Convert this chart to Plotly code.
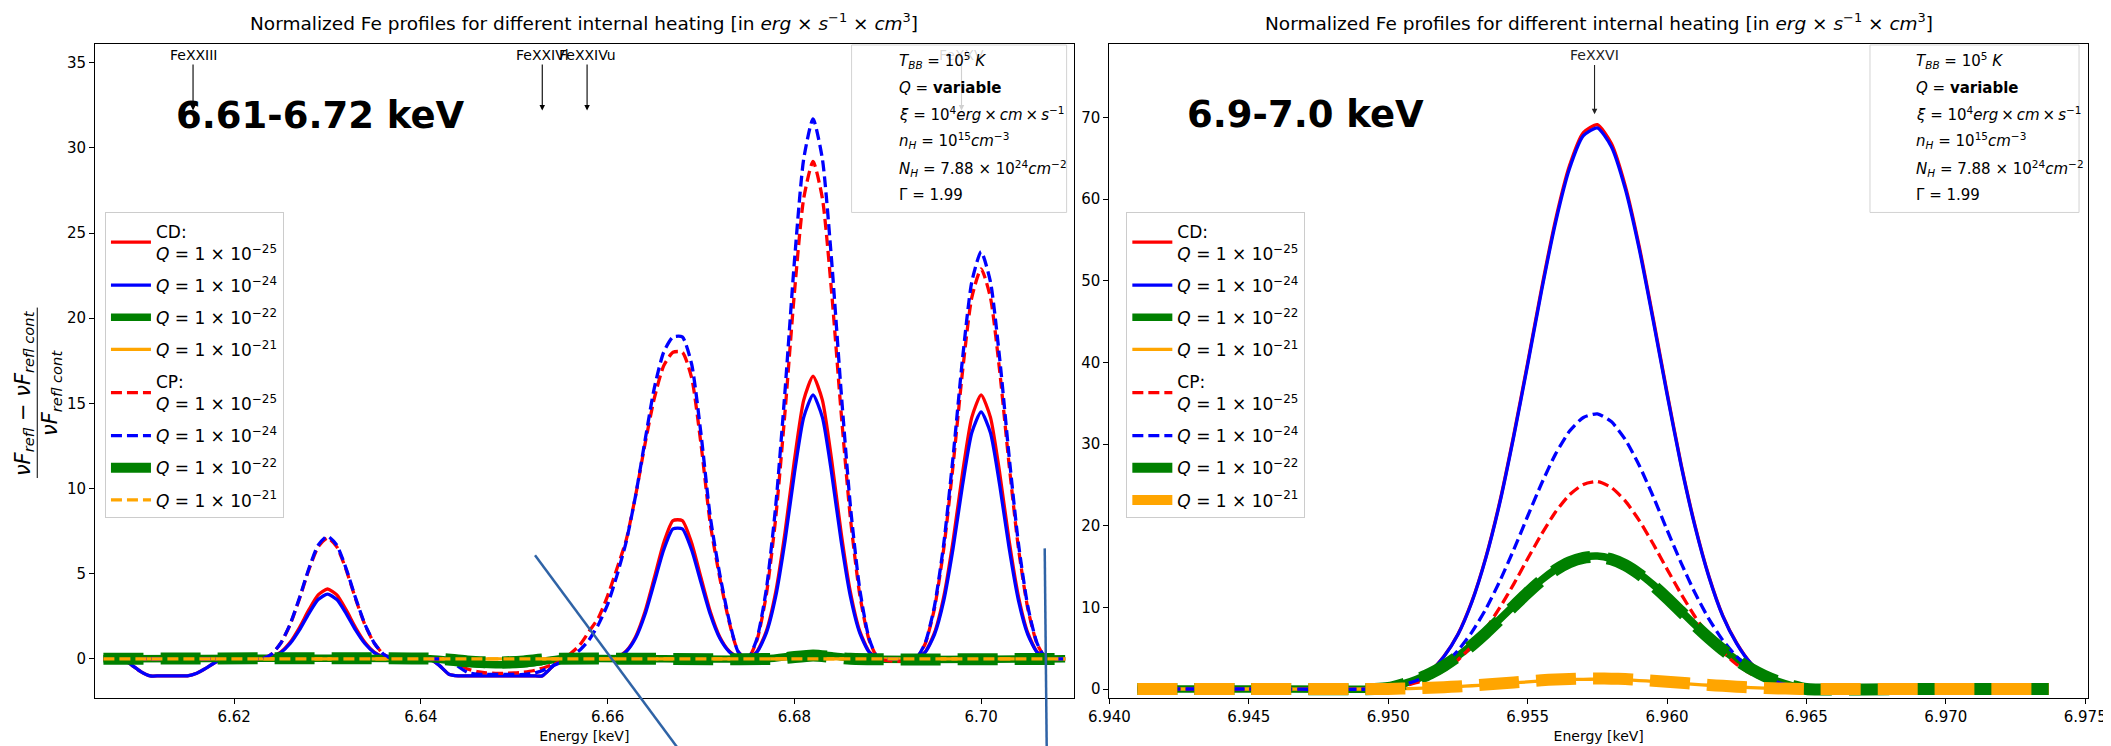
import plotly.graph_objects as go

# ---------------- data: left panel (6.61-6.72 keV) ----------------
E_L = [6.606, 6.607, 6.608, 6.609, 6.610, 6.611, 6.612, 6.613, 6.614, 6.615,
       6.616, 6.617, 6.618, 6.619, 6.620, 6.621, 6.622, 6.623, 6.624, 6.625,
       6.626, 6.627, 6.628, 6.629, 6.630, 6.631, 6.632, 6.633, 6.634, 6.635,
       6.636, 6.637, 6.638, 6.639, 6.640, 6.641, 6.642, 6.643, 6.644, 6.645,
       6.646, 6.647, 6.648, 6.649, 6.650, 6.651, 6.652, 6.653, 6.654, 6.655,
       6.656, 6.657, 6.658, 6.659, 6.660, 6.661, 6.662, 6.663, 6.664, 6.665,
       6.666, 6.667, 6.668, 6.669, 6.670, 6.671, 6.672, 6.673, 6.674, 6.675,
       6.676, 6.677, 6.678, 6.679, 6.680, 6.681, 6.682, 6.683, 6.684, 6.685,
       6.686, 6.687, 6.688, 6.689, 6.690, 6.691, 6.692, 6.693, 6.694, 6.695,
       6.696, 6.697, 6.698, 6.699, 6.700, 6.701, 6.702, 6.703, 6.704, 6.705,
       6.706, 6.707, 6.708, 6.709]

CD_Q25_L = [0, 0, 0, -0.35, -0.75, -1.0, -1.0, -1.0, -1.0, -1.0,
            -0.85, -0.55, -0.2, 0, 0, 0, 0, 0, 0.11, 0.40,
            0.97, 1.84, 2.87, 3.75, 4.10, 3.75, 2.87, 1.84, 0.97, 0.40,
            0.11, 0, 0, 0, 0, 0, -0.4, -0.9, -1.0, -1.0,
            -1.0, -1.0, -1.0, -1.0, -1.0, -1.0, -1.0, -1.0, -0.5, 0,
            0, 0, 0, 0, 0, 0.07, 0.46, 1.30, 2.76, 4.76,
            6.80, 8.12, 8.12, 6.80, 4.76, 2.76, 1.30, 0.46, 0.07, 0,
            0.43, 1.63, 3.92, 7.44, 11.64, 15.19, 16.60, 15.19, 11.64, 7.44,
            3.92, 1.63, 0.43, 0, 0, 0, 0, 0, 0.40, 1.52,
            3.66, 6.94, 10.87, 14.18, 15.50, 14.18, 10.87, 6.94, 3.66, 1.52,
            0.40, 0, 0, 0]

CD_Q24_L = [0, 0, 0, -0.35, -0.75, -1.0, -1.0, -1.0, -1.0, -1.0,
            -0.85, -0.55, -0.2, 0, 0, 0, 0, 0, 0.10, 0.37,
            0.90, 1.70, 2.66, 3.48, 3.80, 3.48, 2.66, 1.70, 0.90, 0.37,
            0.10, 0, 0, 0, 0, 0, -0.4, -0.9, -1.0, -1.0,
            -1.0, -1.0, -1.0, -1.0, -1.0, -1.0, -1.0, -1.0, -0.5, 0,
            0, 0, 0, 0, 0, 0.06, 0.43, 1.22, 2.60, 4.48,
            6.39, 7.63, 7.63, 6.39, 4.48, 2.60, 1.22, 0.43, 0.06, 0,
            0.40, 1.52, 3.66, 6.94, 10.87, 14.18, 15.50, 14.18, 10.87, 6.94,
            3.66, 1.52, 0.40, 0, 0, 0, 0, 0, 0.38, 1.42,
            3.42, 6.50, 10.16, 13.27, 14.50, 13.27, 10.16, 6.50, 3.42, 1.42,
            0.38, 0, 0, 0]

CP_Q25_L = [0, 0, 0, 0, 0, 0, 0, 0, 0, 0,
            0, 0, 0, 0, 0, 0, 0, 0, 0.27, 0.92,
            2.01, 3.53, 5.22, 6.57, 7.10, 6.57, 5.22, 3.53, 2.01, 0.92,
            0.27, 0, 0, 0, 0, 0, 0, 0, -0.3, -0.6,
            -0.75, -0.82, -0.85, -0.85, -0.83, -0.78, -0.70, -0.55, -0.35, -0.15,
            0.3, 0.8, 1.6, 2.4, 3.7, 5.3, 7.0, 9.6, 12.6, 15.3,
            17.2, 18.0, 18.0, 16.5, 12.6, 7.9, 4.8, 2.2, 0.4, 0,
            1.11, 3.77, 8.26, 14.51, 21.46, 27.04, 29.20, 27.04, 21.46, 14.51,
            8.26, 3.77, 1.11, 0, -0.1, -0.15, -0.1, 0, 0.87, 2.95,
            6.48, 11.38, 16.83, 21.21, 22.90, 21.21, 16.83, 11.38, 6.48, 2.95,
            0.87, 0, 0, 0]

CP_Q24_L = [0, 0, 0, 0, 0, 0, 0, 0, 0, 0,
            0, 0, 0, 0, 0, 0, 0, 0, 0.27, 0.93,
            2.04, 3.58, 5.29, 6.67, 7.20, 6.67, 5.29, 3.58, 2.04, 0.93,
            0.27, 0, 0, 0, 0, 0, 0, 0, -0.45, -0.8,
            -0.9, -0.92, -0.92, -0.92, -0.92, -0.92, -0.85, -0.7, -0.45, -0.2,
            0.1, 0.5, 1.1, 2.0, 3.2, 4.9, 6.9, 9.6, 12.8, 15.9,
            18.0, 18.9, 18.9, 17.3, 13.2, 8.3, 5.0, 2.3, 0.4, 0,
            1.20, 4.09, 8.97, 15.75, 23.30, 29.35, 31.70, 29.35, 23.30, 15.75,
            8.97, 4.09, 1.20, 0, 0, 0, 0, 0, 0.91, 3.08,
            6.76, 11.88, 17.57, 22.13, 23.90, 22.13, 17.57, 11.88, 6.76, 3.08,
            0.91, 0, 0, 0]

E_CD_Q22_L = [6.606, 6.641, 6.643, 6.645, 6.648, 6.651, 6.653, 6.655, 6.677, 6.680, 6.682, 6.684, 6.687, 6.709]
CD_Q22_L = [0, 0, -0.1, -0.25, -0.35, -0.3, -0.15, 0, 0, 0.18, 0.25, 0.18, 0, 0]
E_CP_Q22_L = [6.606, 6.642, 6.645, 6.648, 6.651, 6.654, 6.678, 6.682, 6.686, 6.709]
CP_Q22_L = [0, 0, -0.15, -0.22, -0.15, 0, 0, 0.2, 0, 0]
E_Q21_L = [6.606, 6.709]
CD_Q21_L = [0, 0]
CP_Q21_L = [0, 0]

# ---------------- data: right panel (6.9-7.0 keV) ----------------
E_R = [6.941, 6.945, 6.9495, 6.9500, 6.9505, 6.9510, 6.9515, 6.9520, 6.9525, 6.9530,
       6.9535, 6.9540, 6.9545, 6.9550, 6.9555, 6.9560, 6.9565, 6.9570, 6.9575, 6.9580,
       6.9585, 6.9590, 6.9595, 6.9600, 6.9605, 6.9610, 6.9615, 6.9620, 6.9625, 6.9630,
       6.9635, 6.9640, 6.9645, 6.9650, 6.969, 6.9737]

CD_Q25_R = [0, 0, 0, 0, 0.35, 1.04, 2.15, 4.01, 6.71, 10.73,
            16.12, 22.91, 31.07, 39.93, 49.06, 57.44, 64.08, 68.16, 69.13, 66.85,
            61.66, 54.25, 45.46, 36.33, 27.61, 20.07, 13.84, 8.99, 5.61, 3.18,
            1.66, 0.69, 0.21, 0, 0, 0]
CD_Q24_R = [0, 0, 0, 0, 0.34, 1.03, 2.13, 3.99, 6.67, 10.66,
            16.03, 22.77, 30.89, 39.70, 48.78, 57.10, 63.71, 67.77, 68.73, 66.46,
            61.30, 53.94, 45.20, 36.12, 27.45, 19.95, 13.76, 8.94, 5.57, 3.16,
            1.65, 0.69, 0.21, 0, 0, 0]
CD_Q22_R = [0, 0, 0, 0.13, 0.59, 1.17, 1.94, 2.90, 4.06, 5.41,
            6.91, 8.54, 10.20, 11.85, 13.37, 14.64, 15.60, 16.15, 16.30, 15.97,
            15.26, 14.15, 12.78, 11.21, 9.54, 7.87, 6.29, 4.84, 3.57, 2.49,
            1.61, 0.91, 0.39, 0, 0, 0]
CD_Q21_R = [0, 0, 0, 0.01, 0.04, 0.08, 0.14, 0.21, 0.30, 0.40,
            0.51, 0.63, 0.75, 0.87, 0.98, 1.08, 1.15, 1.19, 1.20, 1.17,
            1.12, 1.04, 0.94, 0.83, 0.70, 0.58, 0.46, 0.36, 0.26, 0.18,
            0.12, 0.06, 0.03, 0, 0, 0]
CP_Q25_R = [0, 0, 0, 0.13, 0.36, 0.77, 1.38, 2.28, 3.56, 5.25,
            7.37, 9.96, 12.85, 15.95, 18.97, 21.68, 23.78, 25.06, 25.40, 24.68,
            23.04, 20.66, 17.79, 14.69, 11.67, 8.88, 6.48, 4.51, 3.00, 1.87,
            1.10, 0.59, 0.26, 0, 0, 0]
CP_Q24_R = [0, 0, 0, 0.17, 0.48, 1.02, 1.83, 3.02, 4.72, 6.96,
            9.78, 13.21, 17.05, 21.16, 25.17, 28.77, 31.56, 33.26, 33.70, 32.75,
            30.57, 27.41, 23.61, 19.50, 15.49, 11.79, 8.59, 5.98, 3.97, 2.48,
            1.46, 0.78, 0.34, 0, 0, 0]
CP_Q22_R = [0, 0, 0, 0.12, 0.55, 1.12, 1.88, 2.84, 4.00, 5.35,
            6.85, 8.48, 10.14, 11.79, 13.30, 14.57, 15.52, 16.06, 16.20, 15.88,
            15.17, 14.07, 12.70, 11.14, 9.48, 7.82, 6.25, 4.81, 3.55, 2.48,
            1.60, 0.90, 0.38, 0, 0, 0]
CP_Q21_R = [0, 0, 0, 0.01, 0.05, 0.09, 0.15, 0.23, 0.32, 0.43,
            0.55, 0.68, 0.81, 0.95, 1.07, 1.17, 1.24, 1.29, 1.30, 1.27,
            1.22, 1.13, 1.02, 0.89, 0.76, 0.63, 0.50, 0.39, 0.28, 0.20,
            0.13, 0.07, 0.03, 0, 0, 0]

Q_LABELS = ["−25", "−24", "−22", "−21"]
XTICKS_L = [6.62, 6.64, 6.66, 6.68, 6.70]
XTICKS_R = [6.940, 6.945, 6.950, 6.955, 6.960, 6.965, 6.970, 6.975]
YTICKS_L = [0, 5, 10, 15, 20, 25, 30, 35]
YTICKS_R = [0, 10, 20, 30, 40, 50, 60, 70]

FONT = "DejaVu Sans"
THIN_DASH = "11px,5px"
THICK_DASH = "40px,17px"
W_THIN = 3.3
W_MID = 7.5
W_THICK = 12

# figure geometry (pixels)
ML, MR, MT, MB = 87, 22, 36, 50
PW = 2111 - ML - MR
PH = 746 - MT - MB


def px(xp):
    return (xp - ML) / PW


def py(yp):
    return (746 - MB - yp) / PH


def qlabel(exp, head=None):
    s = "<i>Q</i> = 1 × 10<sup>%s</sup>" % exp
    return (head + "<br>" + s) if head else s


fig = go.Figure()


def add(x, y, name, color, width, dash, xa, ya, leg, grp):
    fig.add_trace(go.Scatter(
        x=x, y=y, mode="lines", name=name,
        line=dict(color=color, width=width, dash=dash, shape="spline", smoothing=0.6),
        xaxis=xa, yaxis=ya, legend=leg, legendgroup=grp, hoverinfo="skip"))


# left panel
add(E_L, CD_Q25_L, qlabel(Q_LABELS[0], "CD:"), "#ff0000", W_THIN, "solid", "x", "y", "legend", "l1")
add(E_L, CD_Q24_L, qlabel(Q_LABELS[1]), "#0000ff", W_THIN, "solid", "x", "y", "legend", "l2")
add(E_CD_Q22_L, CD_Q22_L, qlabel(Q_LABELS[2]), "#008000", W_MID, "solid", "x", "y", "legend", "l3")
add(E_Q21_L, CD_Q21_L, qlabel(Q_LABELS[3]), "#ffa500", W_THIN, "solid", "x", "y", "legend", "l4")
add(E_L, CP_Q25_L, qlabel(Q_LABELS[0], "CP:"), "#ff0000", W_THIN, THIN_DASH, "x", "y", "legend", "l5")
add(E_L, CP_Q24_L, qlabel(Q_LABELS[1]), "#0000ff", W_THIN, THIN_DASH, "x", "y", "legend", "l6")
add(E_CP_Q22_L, CP_Q22_L, qlabel(Q_LABELS[2]), "#008000", W_THICK, THICK_DASH, "x", "y", "legend", "l7")
add(E_Q21_L, CP_Q21_L, qlabel(Q_LABELS[3]), "#ffa500", W_THIN, THIN_DASH, "x", "y", "legend", "l8")

# right panel
add(E_R, CD_Q25_R, qlabel(Q_LABELS[0], "CD:"), "#ff0000", W_THIN, "solid", "x2", "y2", "legend2", "r1")
add(E_R, CD_Q24_R, qlabel(Q_LABELS[1]), "#0000ff", W_THIN, "solid", "x2", "y2", "legend2", "r2")
add(E_R, CD_Q22_R, qlabel(Q_LABELS[2]), "#008000", W_MID, "solid", "x2", "y2", "legend2", "r3")
add(E_R, CD_Q21_R, qlabel(Q_LABELS[3]), "#ffa500", W_THIN, "solid", "x2", "y2", "legend2", "r4")
add(E_R, CP_Q25_R, qlabel(Q_LABELS[0], "CP:"), "#ff0000", W_THIN, THIN_DASH, "x2", "y2", "legend2", "r5")
add(E_R, CP_Q24_R, qlabel(Q_LABELS[1]), "#0000ff", W_THIN, THIN_DASH, "x2", "y2", "legend2", "r6")
add(E_R, CP_Q22_R, qlabel(Q_LABELS[2]), "#008000", W_THICK, THICK_DASH, "x2", "y2", "legend2", "r7")
add(E_R, CP_Q21_R, qlabel(Q_LABELS[3]), "#ffa500", W_THICK, THICK_DASH, "x2", "y2", "legend2", "r8")

axis_common = dict(showline=True, linecolor="black", linewidth=1, mirror=True,
                   ticks="outside", ticklen=5, tickcolor="black", showgrid=False,
                   zeroline=False, tickfont=dict(family=FONT, size=15, color="black"))

legend_common = dict(bgcolor="rgba(255,255,255,0.8)", bordercolor="#cccccc", borderwidth=1,
                     font=dict(family=FONT, size=17, color="black"), xanchor="left",
                     yanchor="top", tracegroupgap=7, itemwidth=40)

RIGHT_X0 = 0.509

fig.update_layout(
    width=2111, height=746,
    margin=dict(l=ML, r=MR, t=MT, b=MB),
    plot_bgcolor="white", paper_bgcolor="white",
    font=dict(family=FONT, size=15, color="black"),
    xaxis=dict(domain=[0, 0.491], range=[6.6051, 6.7099], tickvals=XTICKS_L,
               ticktext=["%.2f" % v for v in XTICKS_L],
               title=dict(text="Energy [keV]", font=dict(family=FONT, size=14), standoff=6),
               **axis_common),
    yaxis=dict(domain=[0, 1], range=[-2.3, 36.1], tickvals=YTICKS_L, anchor="x", **axis_common),
    xaxis2=dict(domain=[RIGHT_X0, 1], range=[6.9400, 6.9751], tickvals=XTICKS_R,
                ticktext=["%.3f" % v for v in XTICKS_R], anchor="y2",
                title=dict(text="Energy [keV]", font=dict(family=FONT, size=14), standoff=6),
                **axis_common),
    yaxis2=dict(domain=[0, 1], range=[-1.1, 79.0], tickvals=YTICKS_R, anchor="x2", **axis_common),
    legend=dict(x=px(97), y=py(206), **legend_common),
    legend2=dict(x=px(1123), y=py(206), **legend_common),
)

TITLE = ("Normalized Fe profiles for different internal heating "
         "[in <i>erg</i> × <i>s</i><sup>−1</sup> × <i>cm</i><sup>3</sup>]")
ann = []
for xc in (0.491 / 2, (RIGHT_X0 + 1) / 2):
    ann.append(dict(text=TITLE, x=xc, y=py(14), xref="paper", yref="paper",
                    showarrow=False, xanchor="center", yanchor="middle",
                    font=dict(family=FONT, size=18.5, color="black")))

# big range labels
ann.append(dict(text="<b>6.61-6.72 keV</b>", x=6.6136, y=31.9, xref="x", yref="y",
                showarrow=False, xanchor="left", yanchor="middle",
                font=dict(family=FONT, size=37, color="black")))
ann.append(dict(text="<b>6.9-7.0 keV</b>", x=6.9427, y=70.4, xref="x2", yref="y2",
                showarrow=False, xanchor="left", yanchor="middle",
                font=dict(family=FONT, size=37, color="black")))

# line-id arrows
LINES_L = [("FeXXIII", 6.6156, "black"), ("FeXXIVl", 6.6530, "black"),
           ("FeXXIVu", 6.6578, "black"), ("FeXXV", 6.6979, "rgba(0,0,0,0.18)")]
for name, xv, col in LINES_L:
    ann.append(dict(text=name, x=xv, y=32.2, ax=xv, ay=35.45, xref="x", yref="y",
                    axref="x", ayref="y", showarrow=True, arrowhead=2, arrowsize=1,
                    arrowwidth=1.1, arrowcolor=col,
                    font=dict(family=FONT, size=14, color=col)))
ann.append(dict(text="FeXXVI", x=6.9574, y=70.4, ax=6.9574, ay=77.6, xref="x2", yref="y2",
                axref="x2", ayref="y2", showarrow=True, arrowhead=2, arrowsize=1,
                arrowwidth=1.1, arrowcolor="#222222",
                font=dict(family=FONT, size=14, color="#222222")))

# parameter boxes
TS = "\u2009"
INFO = ["<i>T</i><sub><i>BB</i></sub> = 10<sup>5</sup> <i>K</i>",
        "<i>Q</i> = <b>variable</b>",
        "<i>ξ</i> = 10<sup>4</sup><i>erg</i>" + TS + "×" + TS + "<i>cm</i>" + TS + "×" + TS
        + "<i>s</i><sup>−1</sup>",
        "<i>n</i><sub><i>H</i></sub> = 10<sup>15</sup><i>cm</i><sup>−3</sup>",
        "<i>N</i><sub><i>H</i></sub> = 7.88 × 10<sup>24</sup><i>cm</i><sup>−2</sup>",
        "Γ = 1.99"]
INFO_Y = [53, 80, 107, 133, 162, 188]
shapes = []
for bx0, bx1, tx in ((847, 1063, 893), (1870, 2080, 1914)):
    shapes.append(dict(type="rect", xref="paper", yref="paper",
                       x0=px(bx0), x1=px(bx1), y0=py(206), y1=py(37),
                       line=dict(color="#d3d3d3", width=1), fillcolor="rgba(255,255,255,0.8)"))
    for t, yy in zip(INFO, INFO_Y):
        ann.append(dict(text=t, x=px(tx), y=py(yy), xref="paper",
                        yref="paper", showarrow=False, xanchor="left", yanchor="middle",
                        font=dict(family=FONT, size=15, color="black")))

# y-axis label as a fraction
NUM = "<i>νF</i><sub><i>refl</i></sub> − <i>νF</i><sub><i>refl cont</i></sub>"
DEN = "<i>νF</i><sub><i>refl cont</i></sub>"
YC = 388
ann.append(dict(text=NUM, x=px(15), y=py(YC), xref="paper", yref="paper",
                showarrow=False, textangle=-90, xanchor="center", yanchor="middle",
                font=dict(family=FONT, size=21, color="black")))
ann.append(dict(text=DEN, x=px(43), y=py(YC), xref="paper", yref="paper",
                showarrow=False, textangle=-90, xanchor="center", yanchor="middle",
                font=dict(family=FONT, size=21, color="black")))
shapes.append(dict(type="line", xref="paper", yref="paper",
                   x0=px(29), x1=px(29), y0=py(YC - 86), y1=py(YC + 86),
                   line=dict(color="black", width=1)))

# stray straight lines drawn over the left panel
for (ax0, ay0, ax1, ay1) in ((529, 552, 672, 746), (1041, 545, 1043, 746)):
    shapes.append(dict(type="line", xref="paper", yref="paper",
                       x0=px(ax0), y0=py(ay0), x1=px(ax1), y1=py(ay1),
                       line=dict(color="#2f63a6", width=2.5)))

fig.update_layout(annotations=ann, shapes=shapes)
fig.write_html("out.html")
